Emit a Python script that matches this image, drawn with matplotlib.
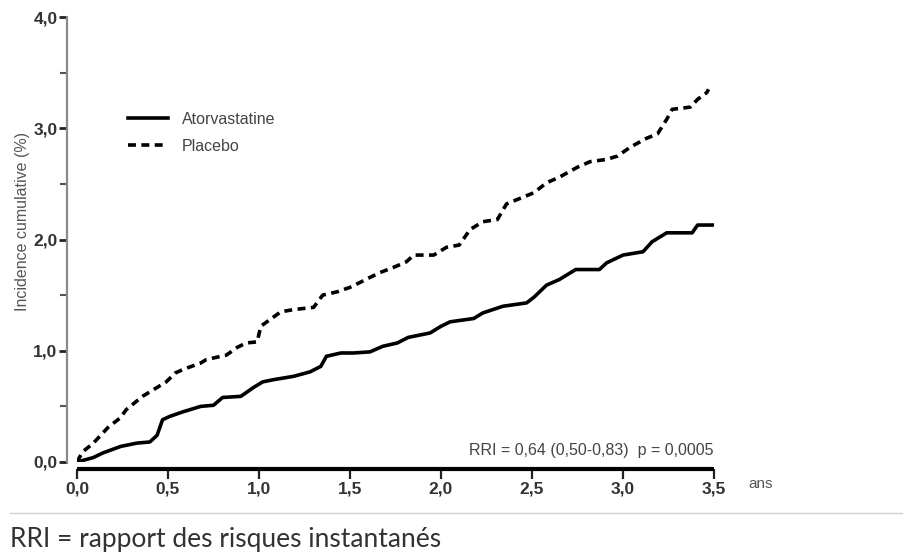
import numpy as np
import matplotlib
matplotlib.use("Agg")
import matplotlib.pyplot as plt
from matplotlib.ticker import FuncFormatter, MultipleLocator

# temps (ans) / incidence cumulative (%)
ator_t = [0.0, 0.09, 0.14, 0.24, 0.33, 0.40, 0.44, 0.47, 0.51, 0.58, 0.68, 0.75,
          0.80, 0.90, 0.97, 1.02, 1.08, 1.19, 1.28, 1.34, 1.37, 1.45, 1.52, 1.61,
          1.68, 1.76, 1.82, 1.94, 2.00, 2.05, 2.18, 2.23, 2.34, 2.47, 2.51, 2.58,
          2.65, 2.74, 2.87, 2.91, 3.00, 3.11, 3.16, 3.24, 3.38, 3.41, 3.49]
ator_y = [0.0, 0.04, 0.08, 0.14, 0.17, 0.18, 0.24, 0.38, 0.41, 0.45, 0.50, 0.51,
          0.58, 0.59, 0.67, 0.72, 0.74, 0.77, 0.81, 0.86, 0.95, 0.98, 0.98, 0.99,
          1.04, 1.07, 1.12, 1.16, 1.22, 1.26, 1.29, 1.34, 1.40, 1.43, 1.48, 1.59,
          1.64, 1.73, 1.73, 1.79, 1.86, 1.89, 1.98, 2.06, 2.06, 2.13, 2.13]

plac_t = [0.0, 0.03, 0.09, 0.17, 0.24, 0.27, 0.36, 0.42, 0.49, 0.54, 0.58, 0.68,
          0.71, 0.79, 0.82, 0.88, 0.93, 0.99, 1.01, 1.06, 1.12, 1.19, 1.30, 1.35,
          1.43, 1.50, 1.55, 1.66, 1.74, 1.81, 1.85, 1.96, 2.03, 2.10, 2.16, 2.23,
          2.31, 2.36, 2.45, 2.51, 2.58, 2.65, 2.75, 2.82, 2.91, 2.97, 3.04, 3.13,
          3.19, 3.24, 3.27, 3.37, 3.41, 3.46, 3.47]
plac_y = [0.0, 0.09, 0.17, 0.31, 0.40, 0.47, 0.59, 0.65, 0.72, 0.80, 0.83, 0.89,
          0.92, 0.95, 0.96, 1.03, 1.07, 1.08, 1.22, 1.28, 1.35, 1.37, 1.39, 1.50,
          1.53, 1.57, 1.61, 1.70, 1.75, 1.80, 1.86, 1.86, 1.93, 1.95, 2.09, 2.16,
          2.18, 2.32, 2.38, 2.42, 2.51, 2.56, 2.65, 2.70, 2.72, 2.75, 2.83, 2.91,
          2.95, 3.08, 3.17, 3.19, 3.26, 3.32, 3.35]

x_ticks = [0.0, 0.5, 1.0, 1.5, 2.0, 2.5, 3.0, 3.5]
y_ticks = [0.0, 1.0, 2.0, 3.0, 4.0]

fig = plt.figure(figsize=(9.04, 5.6), dpi=100)
ax = fig.add_axes([77 / 904, 98 / 560, 637 / 904, 445 / 560])

ax.plot(ator_t, ator_y, color="black", lw=2.6, label="Atorvastatine")
ax.plot(plac_t, plac_y, color="black", lw=2.6,
        linestyle=(0, (2.2, 1.5)), label="Placebo")

ax.set_xlim(0, 3.5)
ax.set_ylim(0, 4.0)

comma = FuncFormatter(lambda v, p: f"{v:.1f}".replace(".", ","))
ax.set_xticks(x_ticks)
ax.set_yticks(y_ticks)
ax.yaxis.set_minor_locator(MultipleLocator(0.5))
ax.xaxis.set_major_formatter(comma)
ax.yaxis.set_major_formatter(comma)

for s in ["top", "right"]:
    ax.spines[s].set_visible(False)
ax.spines["left"].set_position(("outward", 7))
ax.spines["bottom"].set_position(("outward", 5))
ax.spines["left"].set_color("#8a8a8a")
ax.spines["left"].set_linewidth(1.6)
ax.spines["bottom"].set_linewidth(3)
ax.spines["bottom"].set_capstyle("butt")

ax.tick_params(axis="y", which="major", length=6, width=2, color="#222222",
               labelsize=12.5, labelcolor="#333333", pad=1)
ax.tick_params(axis="y", which="minor", length=5, width=1.5, color="#555555")
ax.tick_params(axis="x", which="major", length=7, width=1.6, color="#222222",
               labelsize=12.5, labelcolor="#333333", pad=2)
for lab in ax.get_xticklabels() + ax.get_yticklabels():
    lab.set_fontfamily("Liberation Sans")
    lab.set_fontweight("bold")

ax.set_ylabel("Incidence cumulative (%)", fontsize=11.5, color="#555555",
              family="Liberation Sans")
ax.yaxis.set_label_coords(-0.073, 0.54)

ax.legend(loc="upper left", bbox_to_anchor=(128 / 904, 1 - 112 / 560),
          bbox_transform=fig.transFigure, frameon=False, borderpad=0,
          borderaxespad=0, handlelength=2.5, handletextpad=0.85,
          labelspacing=0.75, prop={"family": "Liberation Sans", "size": 11.5},
          labelcolor="#444444")

ax.text(3.5, 0.04, "RRI = 0,64 (0,50-0,83)  p = 0,0005", ha="right", va="bottom",
        fontsize=11.5, color="#444444", family="Liberation Sans")

fig.text(748 / 904, 1 - 484 / 560, "ans", fontsize=11, color="#555555",
         family="Liberation Sans", va="center", ha="left")

fig.add_artist(plt.Line2D([10 / 904, 1.0], [1 - 513 / 560] * 2,
                          transform=fig.transFigure, color="#d0d0d0", lw=1))
fig.text(10 / 904, 1 - 540 / 560, "RRI = rapport des risques instantanés",
         fontsize=19, color="#333333", family="Lato", va="center", ha="left")

fig.savefig("out.png", dpi=100, facecolor="white")
